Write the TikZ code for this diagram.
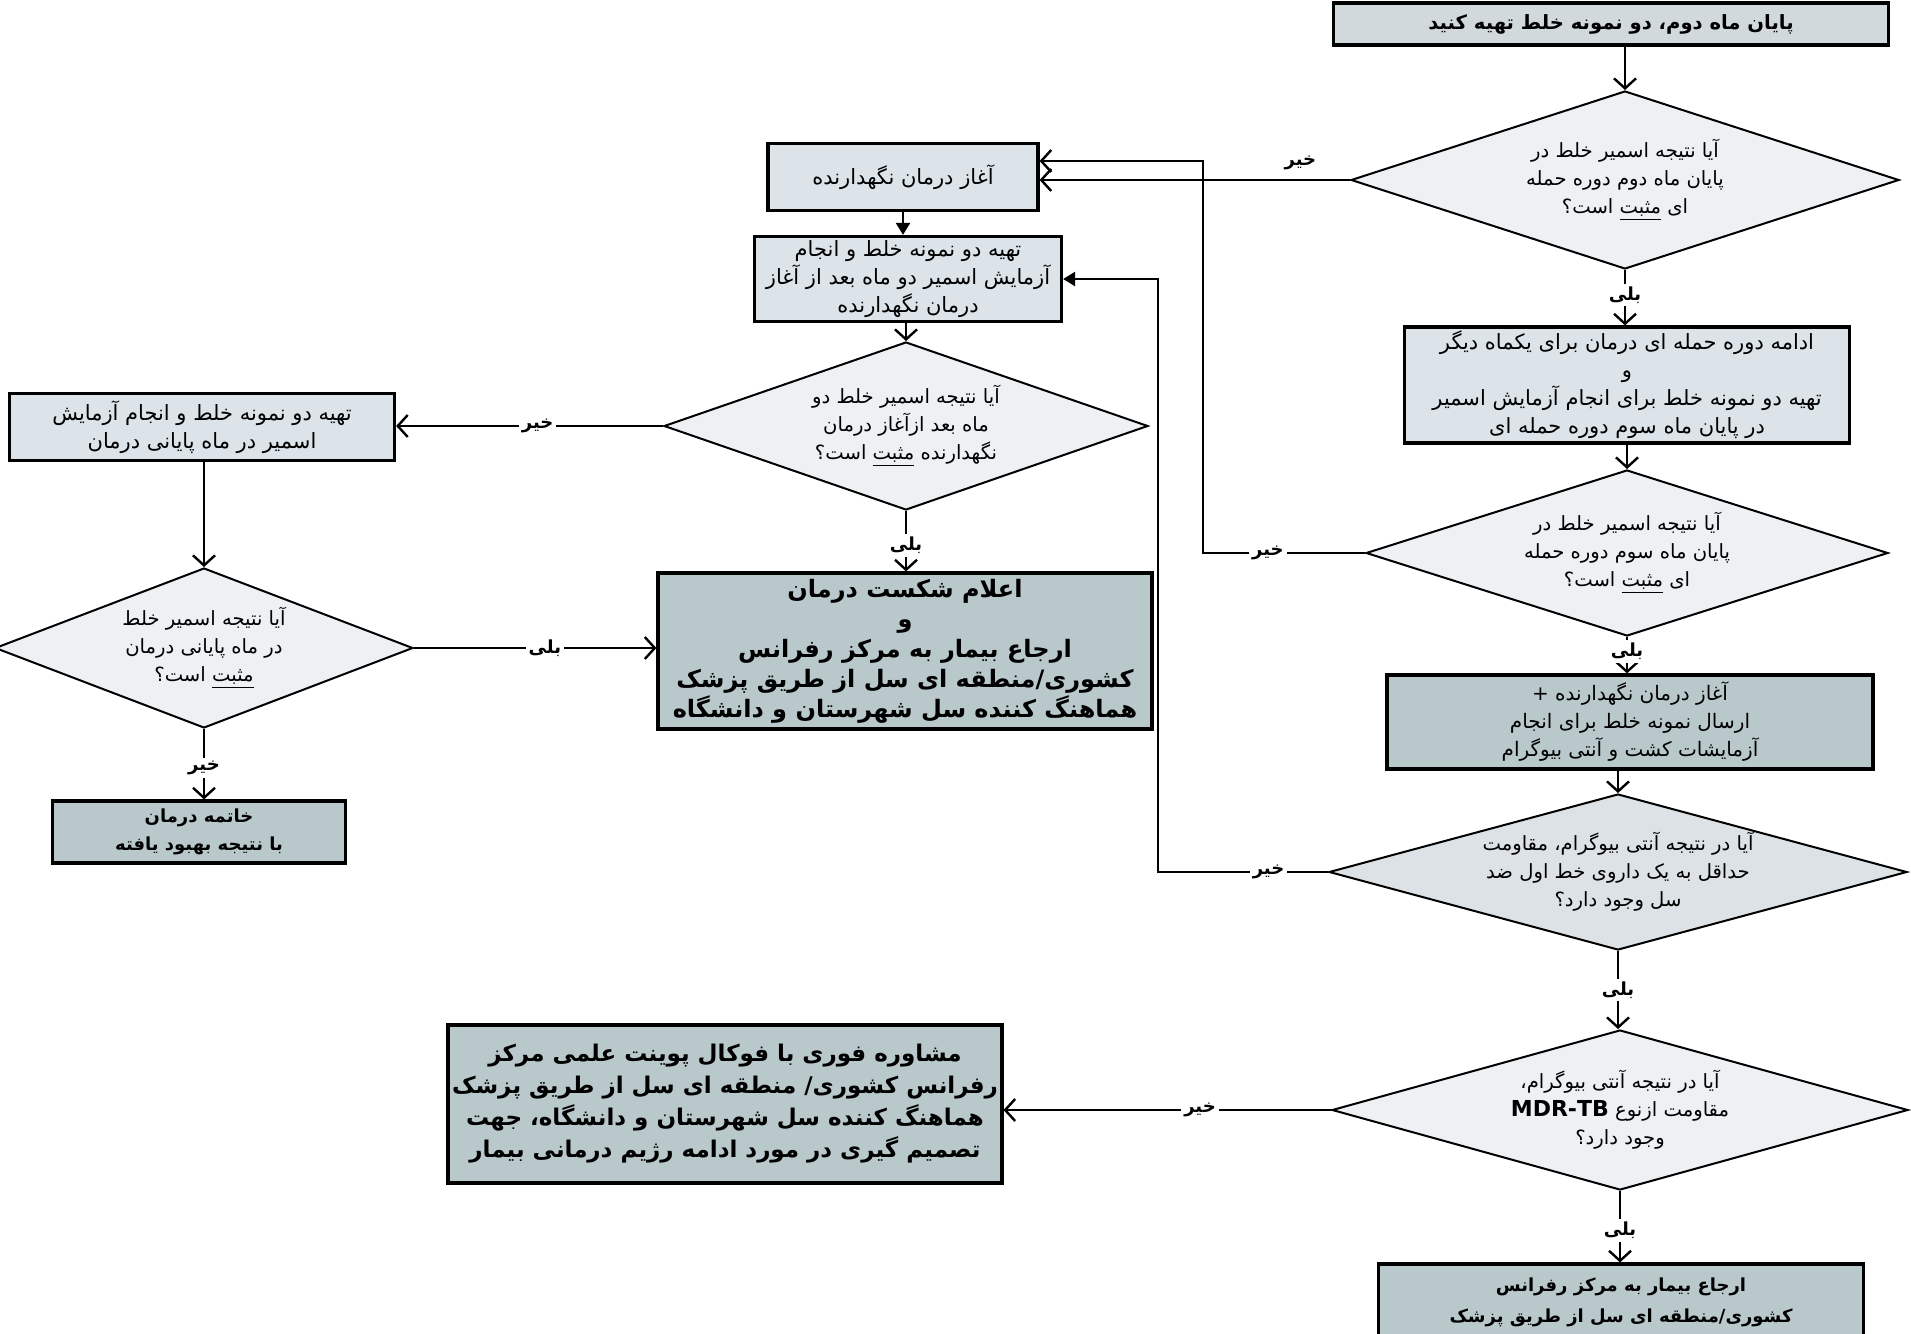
\documentclass[tikz,border=0pt]{standalone}
\usepackage{fontspec}
\newfontfamily\ar[Script=Arabic]{DejaVu Sans}
\TeXXeTstate=1
\usetikzlibrary{shapes.geometric,arrows.meta}
\newcommand{\RR}[1]{\beginR #1\endR}
\definecolor{boxlight}{HTML}{DCE4E9}
\definecolor{boxtop}{HTML}{D2D9DC}
\definecolor{boxdark}{HTML}{B9C8CB}
\definecolor{dialight}{HTML}{EEF1F3}
\definecolor{diamid}{HTML}{DCE2E5}
\tikzset{
  box/.style={draw=black, line width=1.6pt, rectangle, align=center, inner sep=2pt,
    fill=boxlight, font=\ar\fontsize{10.5}{14}\selectfont},
  darkbox/.style={box, fill=boxdark},
  bigbold/.style={font=\ar\bfseries\fontsize{12}{15}\selectfont},
  dia/.style={draw=black, line width=1pt, diamond, align=center, inner sep=0pt,
    fill=dialight, font=\ar\fontsize{9.8}{14}\selectfont},
  arr/.style={line width=1.2pt, -{Straight Barb[length=5pt,width=11pt,line width=1.2pt]}},
  farr/.style={line width=1.2pt, -{Triangle[length=6pt,width=7pt]}},
  lbl/.style={fill=white, inner sep=1.5pt, font=\ar\bfseries\fontsize{9}{10}\selectfont}
}
\begin{document}
\begin{tikzpicture}[x=0.5pt,y=-0.5pt]
\useasboundingbox (0,0) rectangle (1911,1333);
\fill[white] (0,0) rectangle (1911,1333);

% right column
\node[box, fill=boxtop, minimum width=277.5pt, minimum height=21pt,
  font=\ar\bfseries\fontsize{9.8}{12}\selectfont] (b0) at (1611,24)
  {\RR{پایان ماه دوم، دو نمونه خلط تهیه کنید}};
\node[dia, aspect=3.1, minimum width=274pt, minimum height=89pt] (d1) at (1625,180)
  {\RR{آیا نتیجه اسمیر خلط در}\\\RR{پایان ماه دوم دوره حمله}\\\RR{ای \underline{مثبت} است؟}};
\node[box, minimum width=222.5pt, minimum height=58pt] (b5) at (1627,385)
  {\RR{ادامه دوره حمله ای درمان برای یکماه دیگر}\\\RR{و}\\\RR{تهیه دو نمونه خلط برای انجام آزمایش اسمیر}\\\RR{در پایان ماه سوم دوره حمله ای}};
\node[dia, aspect=3.1, minimum width=261pt, minimum height=83pt] (d3) at (1627,553)
  {\RR{آیا نتیجه اسمیر خلط در}\\\RR{پایان ماه سوم دوره حمله}\\\RR{ای \underline{مثبت} است؟}};
\node[darkbox, minimum width=243pt, minimum height=47pt,
  font=\ar\fontsize{10}{14}\selectfont] (b11) at (1630,722)
  {\RR{آغاز درمان نگهدارنده +}\\\RR{ارسال نمونه خلط برای انجام}\\\RR{آزمایشات کشت و آنتی بیوگرام}};
\node[dia, fill=diamid, aspect=3.7, minimum width=289pt, minimum height=78pt] (d13) at (1618,872)
  {\RR{آیا در نتیجه آنتی بیوگرام، مقاومت}\\\RR{حداقل به یک داروی خط اول ضد}\\\RR{سل وجود دارد؟}};
\node[dia, aspect=3.5, minimum width=288pt, minimum height=80pt] (d14) at (1620,1110)
  {\RR{آیا در نتیجه آنتی بیوگرام،}\\\RR{مقاومت ازنوع \beginL{\bfseries\fontsize{11}{14}\selectfont MDR-TB}\endL}\\\RR{وجود دارد؟}};
\node[darkbox, minimum width=242.5pt, minimum height=38pt,
  font=\ar\bfseries\fontsize{9}{15.5}\selectfont] (b16) at (1621,1302)
  {\RR{ارجاع بیمار به مرکز رفرانس}\\\RR{کشوری/منطقه ای سل از طریق پزشک}};

% middle column
\node[box, minimum width=135pt, minimum height=33.5pt] (b3) at (903,177)
  {\RR{آغاز درمان نگهدارنده}};
\node[box, minimum width=153.5pt, minimum height=42.5pt] (b4) at (908,279)
  {\RR{تهیه دو نمونه خلط و انجام}\\\RR{آزمایش اسمیر دو ماه بعد از آغاز}\\\RR{درمان نگهدارنده}};
\node[dia, aspect=2.9, minimum width=242pt, minimum height=84pt] (d2) at (906,426)
  {\RR{آیا نتیجه اسمیر خلط دو}\\\RR{ماه بعد ازآغاز درمان}\\\RR{نگهدارنده \underline{مثبت} است؟}};
\node[darkbox, bigbold, minimum width=247pt, minimum height=78pt] (b10) at (905,651)
  {\RR{اعلام شکست درمان}\\\RR{و}\\\RR{ارجاع بیمار به مرکز رفرانس}\\\RR{کشوری/منطقه ای سل از طریق پزشک}\\\RR{هماهنگ کننده سل شهرستان و دانشگاه}};
\node[darkbox, minimum width=272.5pt, minimum height=79pt,
  font=\ar\bfseries\fontsize{11.5}{16}\selectfont] (b15) at (725,1104)
  {\RR{مشاوره فوری با فوکال پوینت علمی مرکز}\\\RR{رفرانس کشوری/ منطقه ای سل از طریق پزشک}\\\RR{هماهنگ کننده سل شهرستان و دانشگاه، جهت}\\\RR{تصمیم گیری در مورد ادامه رژیم  درمانی بیمار}};

% left column
\node[box, minimum width=192.5pt, minimum height=33.5pt] (b7) at (202,427)
  {\RR{تهیه دو نمونه خلط و انجام آزمایش}\\\RR{اسمیر در ماه پایانی درمان}};
\node[dia, aspect=2.6, minimum width=209pt, minimum height=80pt] (d5) at (204,648)
  {\RR{آیا نتیجه اسمیر خلط}\\\RR{در ماه پایانی درمان}\\\RR{\underline{مثبت} است؟}};
\node[darkbox, minimum width=146.5pt, minimum height=31pt,
  font=\ar\bfseries\fontsize{9}{14}\selectfont] (b12) at (199,832)
  {\RR{خاتمه درمان}\\\RR{با نتیجه بهبود یافته}};

% connectors, right column
\draw[arr] (d1.north |- b0.south) -- (d1.north);
\draw[arr] (d1.south) -- node[lbl, pos=0.45]{\RR{بلی}} (d1.south |- b5.north);
\draw[arr] (b5.south -| d3.north) -- (d3.north);
\draw[arr] (d3.south) -- node[lbl, pos=0.4]{\RR{بلی}} (d3.south |- b11.north);
\draw[arr] (d13.north |- b11.south) -- (d13.north);
\draw[arr] (d13.south) -- node[lbl, pos=0.5]{\RR{بلی}} (d13.south |- d14.north);
\draw[arr] (d14.south) -- node[lbl, pos=0.55]{\RR{بلی}} (d14.south |- b16.north);

% no-branches to the middle
\draw[arr] (d1.west) -- node[pos=0.16, above=1pt, font=\ar\bfseries\fontsize{9}{10}\selectfont]{\RR{خیر}} (d1.west -| b3.east);
\draw[arr] (d3.west) -- node[lbl, pos=0.6]{\RR{خیر}} ++(-162,0) |- ([yshift=8pt]b3.east);
\draw[farr] (d13.west) -- node[lbl, pos=0.35]{\RR{خیر}} ++(-170,0) |- (b4.east);
\draw[arr] (d14.west) -- node[lbl, pos=0.4]{\RR{خیر}} (d14.west -| b15.east);

% middle column
\draw[farr] (b3.south) -- (b3.south |- b4.north);
\draw[arr] (d2.north |- b4.south) -- (d2.north);
\draw[arr] (d2.west) -- node[lbl, pos=0.47]{\RR{خیر}} (d2.west -| b7.east);
\draw[arr] (d2.south) -- node[lbl, pos=0.57]{\RR{بلی}} (d2.south |- b10.north);

% left column
\draw[arr] (d5.north |- b7.south) -- (d5.north);
\draw[arr] (d5.east) -- node[lbl, pos=0.54]{\RR{بلی}} (d5.east -| b10.west);
\draw[arr] (d5.south) -- node[lbl, pos=0.55]{\RR{خیر}} (d5.south |- b12.north);
\end{tikzpicture}
\end{document}
